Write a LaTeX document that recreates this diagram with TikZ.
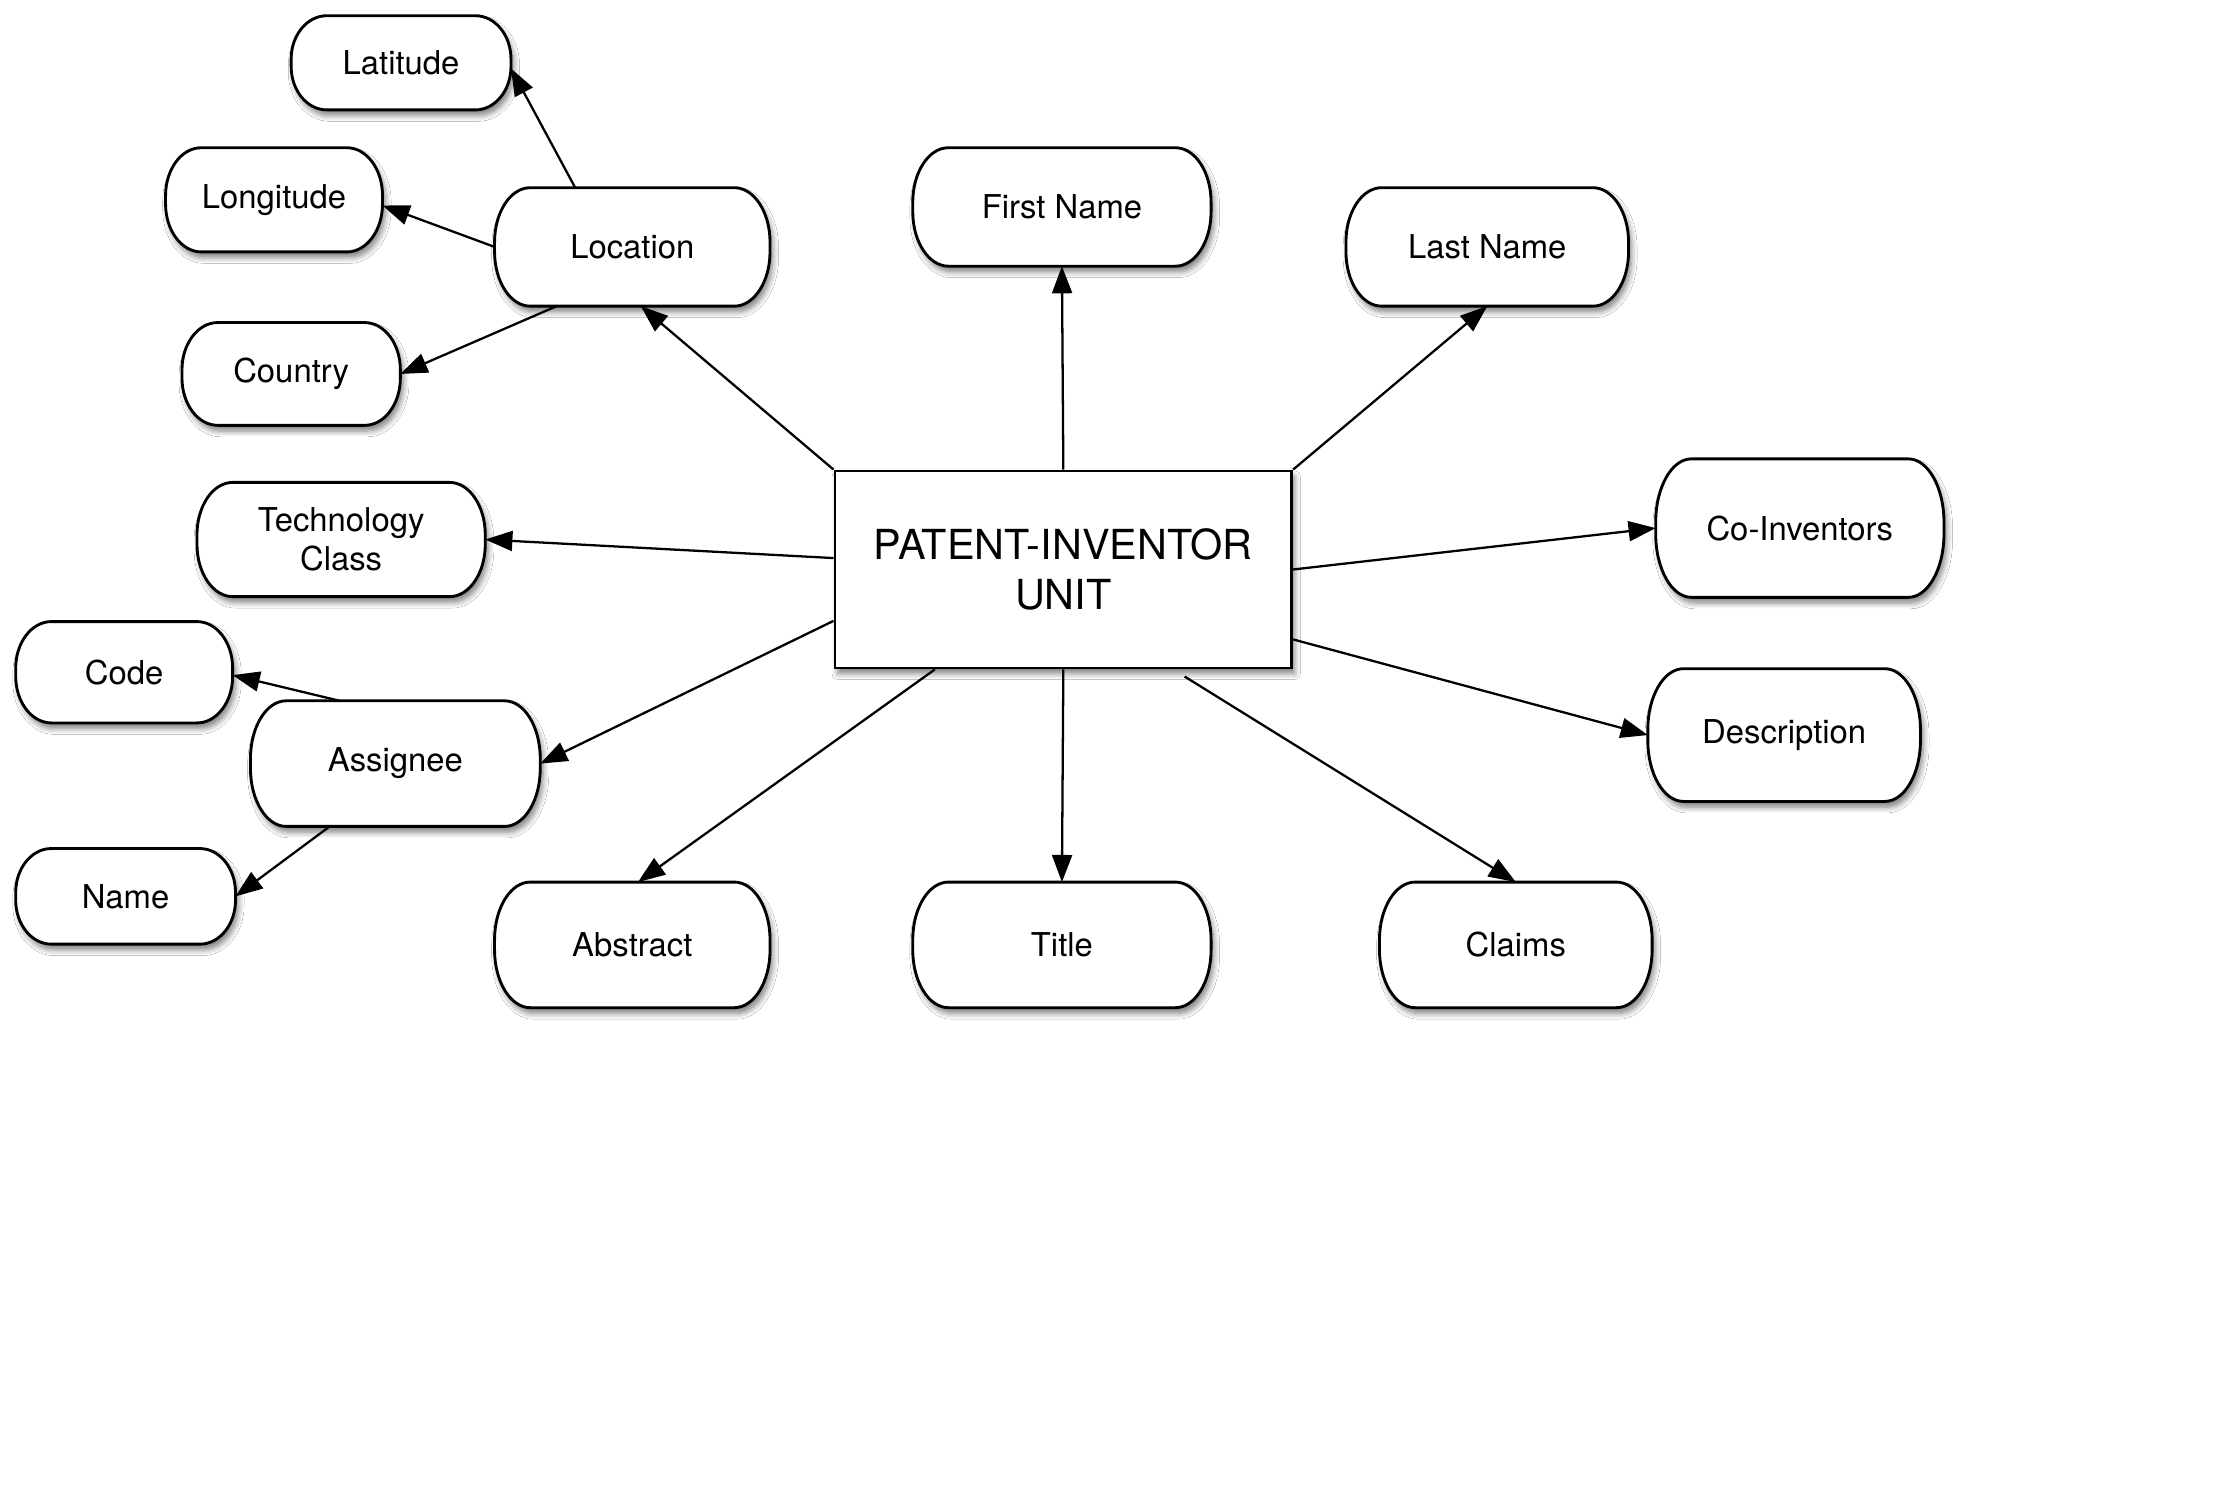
\documentclass[tikz,border=0pt]{standalone}
\usepackage{fontspec}
\setmainfont{TeX Gyre Heros}
\usetikzlibrary{arrows.meta,shadows.blur,calc,backgrounds}
% outline with elliptical corners drawn around a named node
\def\pillrx{12.5pt}
\newcommand\pill[1]{%
  \path[pillline] let \p1=(#1.north west), \p2=(#1.south east),
      \n1={\pillrx}, \n2={0.46*(\y1-\y2)} in
    ({\x1+\n1},\y1) -- ({\x2-\n1},\y1)
    .. controls ({\x2-0.4477*\n1},\y1) and (\x2,{\y1-0.4477*\n2}) .. (\x2,{\y1-\n2})
    -- (\x2,{\y2+\n2})
    .. controls (\x2,{\y2+0.4477*\n2}) and ({\x2-0.4477*\n1},\y2) .. ({\x2-\n1},\y2)
    -- ({\x1+\n1},\y2)
    .. controls ({\x1+0.4477*\n1},\y2) and (\x1,{\y2+0.4477*\n2}) .. (\x1,{\y2+\n2})
    -- (\x1,{\y1-\n2})
    .. controls (\x1,{\y1-0.4477*\n2}) and ({\x1+0.4477*\n1},\y1) .. ({\x1+\n1},\y1)
    -- cycle;}
\begin{document}
\begin{tikzpicture}[x=0.5pt,y=-0.5pt,
  shade/.style={blur shadow={shadow xshift=1pt,shadow yshift=-2pt,shadow blur steps=6,shadow opacity=50,shadow blur radius=2pt}},
  pillline/.style={draw=black,line width=1pt,fill=white,shade},
  attr/.style={font=\fontsize{11.5pt}{13.5pt}\selectfont,align=center,inner sep=0pt,outer sep=0pt},
  unit/.style={draw,line width=1pt,fill=white,shade,
    font=\fontsize{14.5pt}{17.5pt}\selectfont,align=center,
    minimum width=160pt,minimum height=69pt,inner sep=0pt},
  link/.style={draw=black,line width=0.8pt,-{Triangle[length=9.5pt,width=7pt]}}]
\useasboundingbox (0,0) rectangle (1568,1043);

% central entity
\node[unit] (pi) at (745,399) {PATENT-INVENTOR\\UNIT};

% attributes
\node[attr,minimum width=77pt,minimum height=33pt]    (lat)    at (281,44)  {Latitude};
\node[attr,minimum width=76pt,minimum height=36.5pt]  (lon)    at (192,140) {Longitude};
\node[attr,minimum width=96.5pt,minimum height=41.5pt](loc)    at (443,173) {Location};
\node[attr,minimum width=76.5pt,minimum height=36pt]  (cty)    at (204,262) {Country};
\node[attr,minimum width=101pt,minimum height=40pt]   (tech)   at (239,378) {Technology\\Class};
\node[attr,minimum width=76pt,minimum height=35.5pt]  (code)   at (87,471)  {Code};
\node[attr,minimum width=101.5pt,minimum height=44pt] (asg)    at (277,535) {Assignee};
\node[attr,minimum width=77pt,minimum height=33.5pt]  (name)   at (88,628)  {Name};
\node[attr,minimum width=96.5pt,minimum height=44pt]  (abs)    at (443,662) {Abstract};
\node[attr,minimum width=104.5pt,minimum height=44pt] (title)  at (744,662) {Title};
\node[attr,minimum width=95.5pt,minimum height=44pt]  (claims) at (1062,662) {Claims};
\node[attr,minimum width=104.5pt,minimum height=41.5pt](first) at (744,145) {First Name};
\node[attr,minimum width=99pt,minimum height=41.5pt]  (last)   at (1042,173) {Last Name};
\node[attr,minimum width=101pt,minimum height=48.5pt] (coinv)  at (1261,370) {Co-Inventors};
\node[attr,minimum width=95.5pt,minimum height=46.5pt](desc)   at (1250,515) {Description};

% page background and attribute outlines behind the labels
\begin{pgfonlayer}{background}
  \fill[white] (0,0) rectangle (1568,1043);
  \foreach \nd in {lat,lon,loc,cty,tech,code,asg,name,abs,title,claims,first,last,coinv,desc}
    {\pill{\nd}}
\end{pgfonlayer}

% connectors from the central entity
\draw[link] (pi.north west) -- ([xshift=3pt]loc.south);
\draw[link] (pi.north) -- (first.south);
\draw[link] (pi.north east) -- (last.south);
\draw[link] (pi.east) -- (coinv.west);
\draw[link] ([yshift=10.5pt]pi.south east) -- (desc.west);
\draw[link] ([xshift=42.5pt,yshift=-2.5pt]pi.south) -- (claims.north);
\draw[link] (pi.south) -- (title.north);
\draw[link] ([xshift=-45pt]pi.south) -- ([xshift=2pt]abs.north);
\draw[link] ([yshift=-18pt]pi.west) -- (asg.east);
\draw[link] ([yshift=4pt]pi.west) -- (tech.east);

% location details
\draw[link] ([xshift=-20pt]loc.north) -- ([yshift=-2pt]lat.east);
\draw[link] (loc.west) -- ([yshift=-2pt]lon.east);
\draw[link] ([xshift=-26.5pt]loc.south) -- (cty.east);

% assignee details
\draw[link] ([xshift=-19.5pt]asg.north) -- ([yshift=-1pt]code.east);
\draw[link] ([xshift=-23pt]asg.south) -- (name.east);
\end{tikzpicture}
\end{document}
